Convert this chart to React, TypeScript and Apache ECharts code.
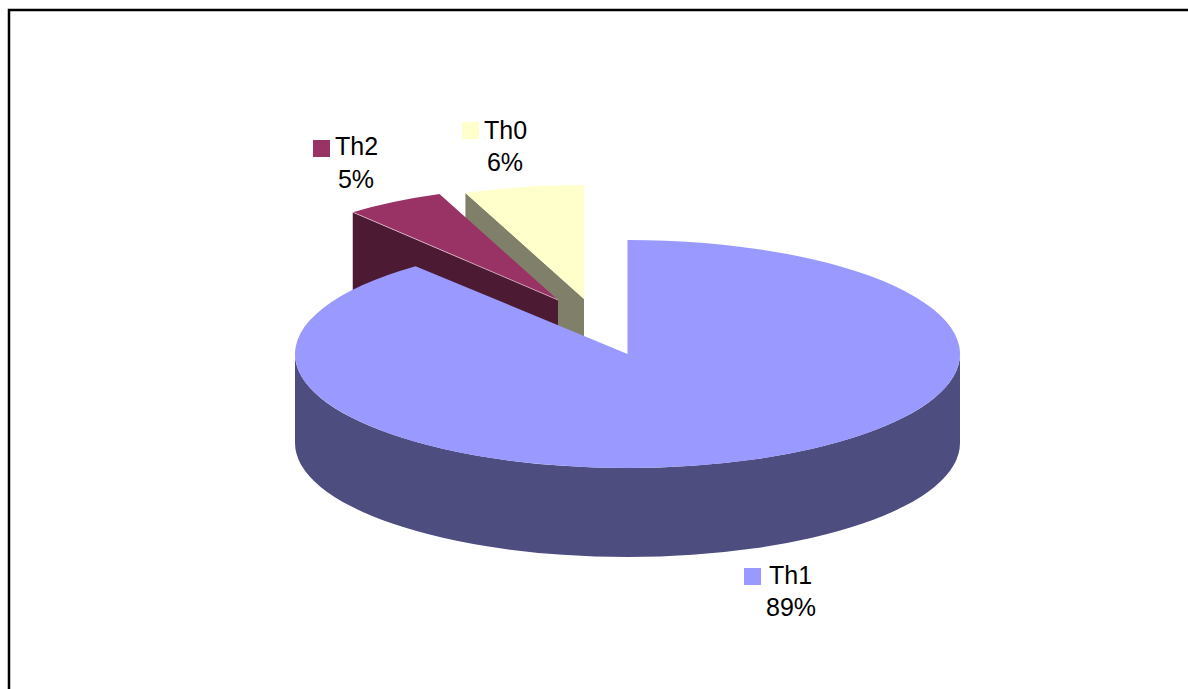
import React, { useEffect, useRef } from "react";
import * as echarts from "echarts";

// Clockwise from twelve o'clock, as the pie is laid out.
const categories = ["Th1", "Th2", "Th0"];
const shares = [89, 5, 6];
const topColors = ["#9999FF", "#993366", "#FFFFCC"];
const sideColors = ["#4D4D80", "#4D1A33", "#80806A"];

// Pie geometry: apex of each slice, ellipse radii and extrusion depth.
const apexX = [627.5, 558, 584];
const apexY = [354, 300, 299];
const radiusX = [332.5, 322, 322];
const radiusY = 114;
const depth = 89;

// Label placement: swatch corner, name start and centre line, percent centre.
const swatchX = [744, 313, 462];
const swatchY = [568, 140, 122];
const nameX = [769, 335, 484];
const nameY = [575, 146, 130];
const percentX = [791, 356, 505];
const percentY = [607, 179, 162];

const FONT = '25px "Liberation Sans", Arial, sans-serif';
const total = shares.reduce((a, b) => a + b, 0);

function rimPoint(i: number, angle: number): [number, number] {
  return [
    apexX[i] + radiusX[i] * Math.sin(angle),
    apexY[i] - radiusY * Math.cos(angle),
  ];
}

function renderSlice(params: any, api: any) {
  const i = api.value(1) as number;
  let before = 0;
  for (let k = 0; k < i; k++) before += shares[k];
  const a0 = (before / total) * Math.PI * 2;
  const a1 = ((before + (api.value(0) as number)) / total) * Math.PI * 2;
  const rx = radiusX[i];
  const ax = apexX[i];
  const ay = apexY[i];
  const [sx, sy] = rimPoint(i, a0);
  const [ex, ey] = rimPoint(i, a1);
  const large = a1 - a0 > Math.PI ? 1 : 0;
  const children: any[] = [];

  // Outer wall: only the front half of the rim can be seen.
  const frontStart = Math.PI / 2;
  const frontEnd = (Math.PI * 3) / 2;
  if (a0 < frontEnd && a1 > frontStart) {
    const from = Math.max(a0, frontStart);
    const to = Math.min(a1, frontEnd);
    const [fx, fy] = rimPoint(i, from);
    const [tx, ty] = rimPoint(i, to);
    children.push({
      type: "path",
      shape: {
        pathData:
          `M${fx} ${fy}A${rx} ${radiusY} 0 0 1 ${tx} ${ty}` +
          `L${tx} ${ty + depth}A${rx} ${radiusY} 0 0 0 ${fx} ${fy + depth}Z`,
      },
      style: { fill: sideColors[i] },
    });
  }

  // Cut face along the slice's leading edge, seen on the pulled-out slices.
  if (i > 0) {
    children.push({
      type: "polygon",
      shape: {
        points: [
          [sx, sy],
          [ax, ay],
          [ax, ay + depth],
          [sx, sy + depth],
        ],
      },
      style: { fill: sideColors[i] },
    });
  }

  // Top face.
  children.push({
    type: "path",
    shape: {
      pathData: `M${ax} ${ay}L${sx} ${sy}A${rx} ${radiusY} 0 ${large} 1 ${ex} ${ey}Z`,
    },
    style: { fill: topColors[i] },
  });

  // Thin highlight along the burgundy slice's lower edge.
  if (i === 1) {
    children.push({
      type: "line",
      shape: { x1: sx, y1: sy, x2: ax, y2: ay },
      style: { stroke: "rgba(255,235,245,0.75)", lineWidth: 0.8 },
    });
  }

  // Label: swatch, name, percentage.
  children.push(
    {
      type: "rect",
      shape: { x: swatchX[i], y: swatchY[i], width: 17, height: 17 },
      style: { fill: topColors[i] },
    },
    {
      type: "text",
      x: nameX[i],
      y: nameY[i],
      style: {
        text: categories[i],
        font: FONT,
        fill: "#000000",
        align: "left",
        verticalAlign: "middle",
      },
    },
    {
      type: "text",
      x: percentX[i],
      y: percentY[i],
      style: {
        text: `${shares[i]}%`,
        font: FONT,
        fill: "#000000",
        align: "center",
        verticalAlign: "middle",
      },
    }
  );

  return { type: "group", children };
}

export default function App() {
  const ref = useRef<HTMLDivElement>(null);

  useEffect(() => {
    if (!ref.current) return;
    const chart = echarts.init(ref.current, undefined, { renderer: "svg" });
    // Painted back to front so the large slice overlaps the pulled-out ones.
    const paintOrder = categories.map((_, i) => i).reverse();
    chart.setOption({
      animation: false,
      backgroundColor: "#ffffff",
      graphic: [
        {
          type: "polyline",
          shape: {
            points: [
              [9, 689],
              [9, 10],
              [1188, 10],
            ],
          },
          style: { stroke: "#000000", lineWidth: 2.5, fill: "none" },
        },
      ],
      series: [
        {
          type: "custom",
          coordinateSystem: "none",
          renderItem: renderSlice,
          silent: true,
          data: paintOrder.map((i) => ({ name: categories[i], value: [shares[i], i] })),
        },
      ],
    });
    return () => chart.dispose();
  }, []);

  return (
    <div
      ref={ref}
      style={{ position: "absolute", left: 0, top: 0, width: 1188, height: 689 }}
    />
  );
}
